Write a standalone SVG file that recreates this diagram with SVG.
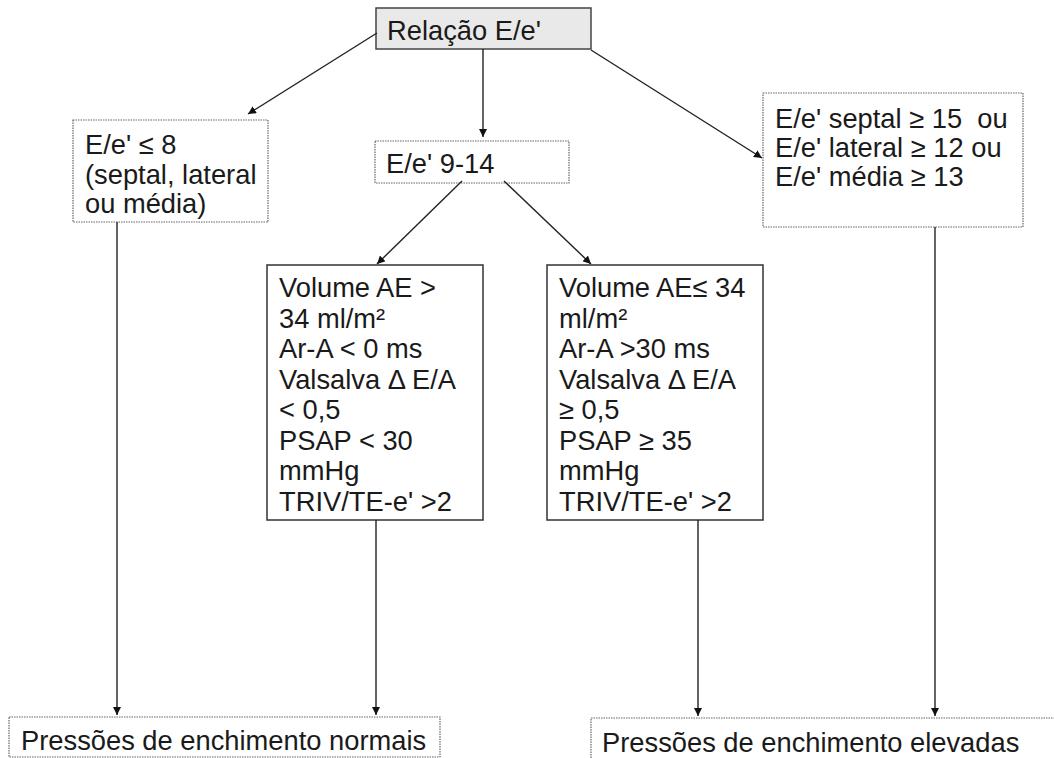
<svg xmlns="http://www.w3.org/2000/svg" width="1054" height="758" viewBox="0 0 1054 758">
<defs>
<style>
text{font-family:"Liberation Sans",Arial,sans-serif;font-size:27.3px;fill:#1a1a1a;white-space:pre}
.solid{fill:#fff;stroke:#333;stroke-width:1.5}
.dot{fill:#fff;stroke:#666;stroke-width:1.2;stroke-dasharray:1.5,1}
.top{fill:#e9e9e9;stroke:#444;stroke-width:1.5}
.conn line{stroke:#222;stroke-width:1.4;marker-end:url(#ah)}
</style>
<marker id="ah" viewBox="0 0 10 10" refX="10" refY="5" markerWidth="8" markerHeight="8" markerUnits="userSpaceOnUse" orient="auto">
<path d="M0,0 L10,5 L0,10 z" fill="#111"/>
</marker>
</defs>
<rect width="1054" height="758" fill="#fff"/>
<g id="n-root">
<rect class="top" x="376" y="8" width="215" height="41"/>
<text x="387" y="40">Relação E/e'</text>
</g>
<g id="n-low">
<rect class="dot" x="73" y="120" width="195" height="102"/>
<text x="85" y="154">E/e' ≤ 8</text>
<text x="85" y="183.5">(septal, lateral</text>
<text x="85" y="213">ou média)</text>
</g>
<g id="n-mid">
<rect class="dot" x="375" y="141" width="194" height="42"/>
<text x="386" y="173">E/e' 9-14</text>
</g>
<g id="n-high">
<rect class="dot" x="763" y="93" width="260" height="134"/>
<text x="775" y="128" xml:space="preserve">E/e' septal ≥ 15  ou</text>
<text x="775" y="157">E/e' lateral ≥ 12 ou</text>
<text x="775" y="185.5">E/e' média ≥ 13</text>
</g>
<g id="n-vol-low">
<rect class="solid" x="267" y="265" width="216" height="255"/>
<text x="279" y="297">Volume AE &gt;</text>
<text x="279" y="327.5">34 ml/m²</text>
<text x="279" y="358">Ar-A &lt; 0 ms</text>
<text x="279" y="388.5">Valsalva Δ E/A</text>
<text x="279" y="419">&lt; 0,5</text>
<text x="279" y="449.5">PSAP &lt; 30</text>
<text x="279" y="480">mmHg</text>
<text x="279" y="510.5">TRIV/TE-e' &gt;2</text>
</g>
<g id="n-vol-high">
<rect class="solid" x="547" y="265" width="216" height="255"/>
<text x="559" y="297">Volume AE≤ 34</text>
<text x="559" y="327.5">ml/m²</text>
<text x="559" y="358">Ar-A &gt;30 ms</text>
<text x="559" y="388.5">Valsalva Δ E/A</text>
<text x="559" y="419">≥ 0,5</text>
<text x="559" y="449.5">PSAP ≥ 35</text>
<text x="559" y="480">mmHg</text>
<text x="559" y="510.5">TRIV/TE-e' &gt;2</text>
</g>
<g id="n-normal">
<rect class="dot" x="9" y="717" width="431" height="40"/>
<text x="21" y="750">Pressões de enchimento normais</text>
</g>
<g id="n-elev">
<rect class="dot" x="591" y="718" width="470" height="45"/>
<text x="602" y="752">Pressões de enchimento elevadas</text>
</g>
<g id="connectors" class="conn">
<line x1="377" y1="33" x2="248" y2="114"/>
<line x1="483" y1="49" x2="483" y2="137"/>
<line x1="591" y1="50" x2="762" y2="158"/>
<line x1="462" y1="181" x2="377" y2="264"/>
<line x1="504" y1="181" x2="591" y2="264"/>
<line x1="117" y1="222" x2="117" y2="715"/>
<line x1="376" y1="520" x2="376" y2="715"/>
<line x1="698" y1="520" x2="698" y2="716"/>
<line x1="935" y1="227" x2="935" y2="716"/>
</g>
</svg>
